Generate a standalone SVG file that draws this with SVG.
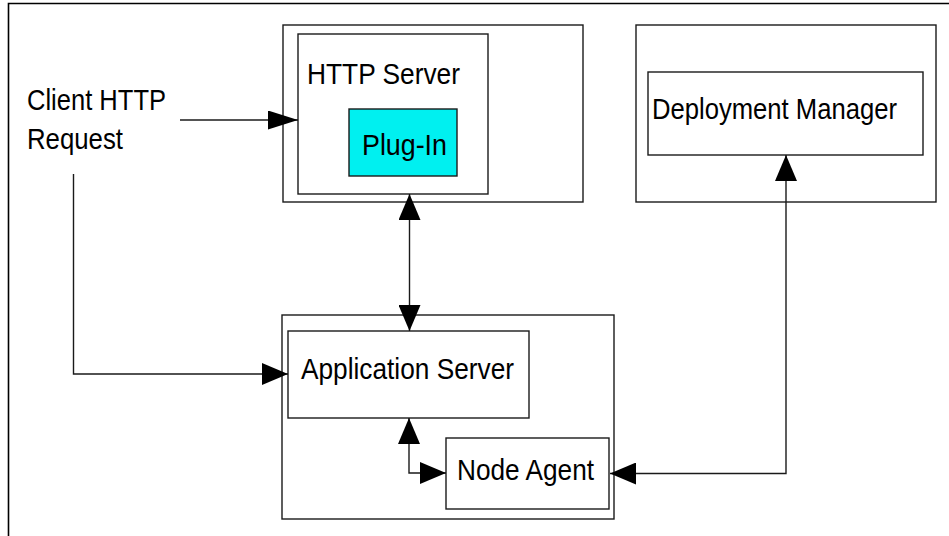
<svg xmlns="http://www.w3.org/2000/svg" width="949" height="536" viewBox="0 0 949 536">
  <defs>
    <style>
      .box { fill: #ffffff; stroke: #1a1a1a; stroke-width: 1.4; }
      .plug { fill: #00f0f0; stroke: #1a1a1a; stroke-width: 1.4; }
      .frame { fill: none; stroke: #000; stroke-width: 1.6; }
      .lbl { font-family: "Liberation Sans", Arial, sans-serif; font-size: 30px; fill: #000; }
      .conn { fill: none; stroke: #1a1a1a; stroke-width: 1.4; }
    </style>
    <marker id="ah" viewBox="0 0 26 22" refX="26" refY="11" markerWidth="26" markerHeight="22" markerUnits="userSpaceOnUse" orient="auto-start-reverse">
      <path d="M0,0 L26,11 L0,22 Z" fill="#000"/>
    </marker>
    <marker id="ahs" viewBox="0 0 30 19" refX="30" refY="9.5" markerWidth="30" markerHeight="19" markerUnits="userSpaceOnUse" orient="auto">
      <path d="M0,0 L30,9.5 L0,19 Z" fill="#000"/>
    </marker>
  </defs>
  <rect width="949" height="536" fill="#ffffff"/>
  <path class="frame" d="M8.5,540 V3.5 H952"/>

  <g id="client">
    <text class="lbl" x="27" y="110" textLength="139" lengthAdjust="spacingAndGlyphs">Client HTTP</text>
    <text class="lbl" x="27" y="149" textLength="96" lengthAdjust="spacingAndGlyphs">Request</text>
  </g>

  <g id="http-node">
    <rect class="box" x="283" y="25" width="300" height="177"/>
  </g>
  <g id="http-server">
    <rect class="box" x="298" y="34" width="190" height="160"/>
    <text class="lbl" x="307" y="84" textLength="153" lengthAdjust="spacingAndGlyphs">HTTP Server</text>
  </g>
  <g id="plugin">
    <rect class="plug" x="349" y="109" width="108" height="67"/>
    <text class="lbl" x="362" y="155" textLength="85" lengthAdjust="spacingAndGlyphs">Plug-In</text>
  </g>

  <g id="dm-node">
    <rect class="box" x="636" y="25" width="300" height="177"/>
  </g>
  <g id="deployment-manager">
    <rect class="box" x="648" y="72" width="275" height="83"/>
    <text class="lbl" x="652" y="119" textLength="245" lengthAdjust="spacingAndGlyphs">Deployment Manager</text>
  </g>

  <g id="app-node">
    <rect class="box" x="282" y="315" width="332" height="204"/>
  </g>
  <g id="application-server">
    <rect class="box" x="288" y="331" width="241" height="87"/>
    <text class="lbl" x="301" y="379" textLength="213" lengthAdjust="spacingAndGlyphs">Application Server</text>
  </g>
  <g id="node-agent">
    <rect class="box" x="446" y="438" width="163" height="71"/>
    <text class="lbl" x="457" y="480" textLength="137" lengthAdjust="spacingAndGlyphs">Node Agent</text>
  </g>

  <g id="connectors">
    <path class="conn" d="M180,120 H298" marker-end="url(#ahs)"/>
    <path class="conn" d="M73.5,174 V374 H288" marker-end="url(#ah)"/>
    <path class="conn" d="M409.5,194 V331" marker-start="url(#ah)" marker-end="url(#ah)"/>
    <path class="conn" d="M409,418 V473 H446" marker-start="url(#ah)" marker-end="url(#ah)"/>
    <path class="conn" d="M786,155 V473.5 H610" marker-start="url(#ah)" marker-end="url(#ah)"/>
  </g>
</svg>
